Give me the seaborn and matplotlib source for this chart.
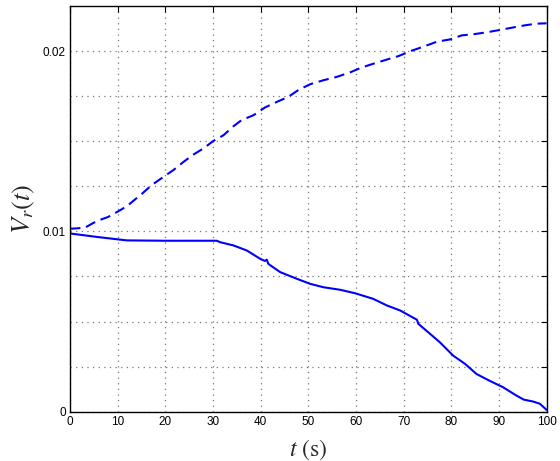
import numpy as np
import pandas as pd
import matplotlib
matplotlib.use("Agg")
import matplotlib.pyplot as plt
import seaborn as sns

# upper (dashed) curve
t_upper = [0.0, 0.4, 3.1, 5.6, 8.0, 10.5, 11.9, 13.6, 15.0, 17.1, 19.6, 21.7, 23.8, 25.9,
           28.0, 30.1, 32.2, 34.3, 36.0, 38.5, 40.9, 43.4, 45.8, 48.1, 50.5, 53.3, 56.0,
           58.8, 61.2, 63.8, 66.5, 68.9, 71.7, 74.1, 77.0, 79.8, 82.2, 84.6, 87.4, 90.2,
           93.0, 95.5, 97.9, 100.0]
v_upper = [0.01015, 0.01015, 0.0102, 0.01057, 0.0108, 0.01117, 0.01139, 0.01176, 0.01206,
           0.01256, 0.01302, 0.0134, 0.01385, 0.01426, 0.0146, 0.01502, 0.01533, 0.01583,
           0.01617, 0.01644, 0.01687, 0.01718, 0.01746, 0.01787, 0.01817, 0.01839, 0.01857,
           0.01882, 0.01909, 0.01931, 0.01953, 0.01972, 0.02002, 0.02024, 0.02052, 0.02065,
           0.02087, 0.02093, 0.02104, 0.02117, 0.02131, 0.02143, 0.02152, 0.02154]

# lower (solid) curve
t_lower = [0.0, 0.4, 6.0, 11.9, 20.0, 30.8, 31.5, 34.3, 37.1, 39.9, 40.9, 41.3, 41.6,
           44.1, 47.6, 50.4, 53.2, 56.7, 59.8, 63.6, 66.5, 69.3, 72.1, 72.8, 73.1, 75.5,
           77.6, 80.4, 82.9, 85.3, 88.0, 90.9, 93.7, 95.2, 97.2, 98.6, 100.0]
v_lower = [0.0099, 0.00987, 0.00968, 0.0095, 0.00948, 0.00948, 0.0094, 0.00922, 0.00894,
           0.00848, 0.00836, 0.00843, 0.0082, 0.00774, 0.00737, 0.00709, 0.0069, 0.00676,
           0.00657, 0.00626, 0.00589, 0.00561, 0.0052, 0.0051, 0.00487, 0.00433, 0.00385,
           0.00311, 0.00265, 0.00209, 0.00172, 0.00135, 0.00089, 0.00067, 0.00056,
           0.00044, 0.0001]

x_ticks = [0, 10, 20, 30, 40, 50, 60, 70, 80, 90, 100]
y_ticks = [0, 0.0025, 0.005, 0.0075, 0.01, 0.0125, 0.015, 0.0175, 0.02]
y_ticklabels = ["0", "", "", "", "0.01", "", "", "", "0.02"]

sns.set_style("white")
plt.rcParams["mathtext.fontset"] = "stix"
plt.rcParams["font.family"] = ["Liberation Sans", "DejaVu Sans"]

fig = plt.figure(figsize=(5.6, 4.61), dpi=100)
ax = fig.add_axes([0.125, 0.107, 0.851, 0.880])

df_u = pd.DataFrame({"t": t_upper, "v": v_upper})
df_l = pd.DataFrame({"t": t_lower, "v": v_lower})

sns.lineplot(data=df_u, x="t", y="v", ax=ax, color="#0000ff", linewidth=1.5,
             estimator=None, sort=False)
ax.lines[-1].set_dashes([5, 2.8])
sns.lineplot(data=df_l, x="t", y="v", ax=ax, color="#0000ff", linewidth=1.5,
             estimator=None, sort=False)

ax.set_xlim(0, 100)
ax.set_ylim(0, 0.0225)
ax.set_xticks(x_ticks)
ax.set_xticklabels([str(x) for x in x_ticks])
ax.set_yticks(y_ticks)
ax.set_yticklabels(y_ticklabels)

ax.grid(True, linestyle=(0, (1, 3.5)), color="#777777", linewidth=0.9)
ax.tick_params(direction="in", length=4, width=0.8, top=True, right=True,
               labelsize=8.5, colors="black", pad=3)
for s in ax.spines.values():
    s.set_visible(True)
    s.set_color("black")
    s.set_linewidth(1.0)

ax.set_xlabel(r"$t\ \mathrm{(s)}$", fontsize=17, labelpad=7)
ax.set_ylabel(r"$V_r(t)$", fontsize=19, labelpad=4)

fig.savefig("out.png", dpi=100)
